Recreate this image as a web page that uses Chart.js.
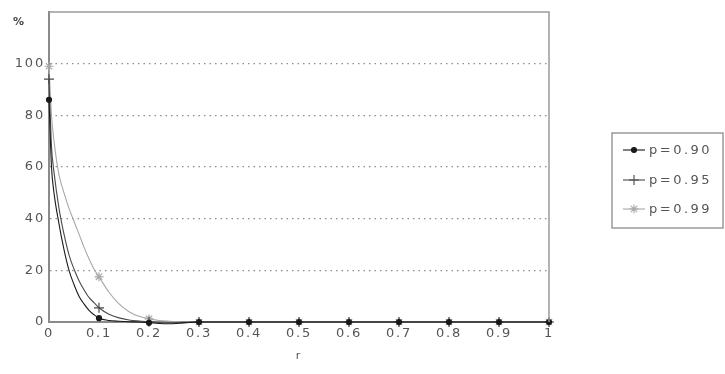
<!DOCTYPE html>
<html>
<head>
<meta charset="utf-8">
<style>
  html, body { margin: 0; padding: 0; background: #fff; }
  #wrap { position: relative; width: 725px; height: 374px; }
</style>
<script src="https://cdn.jsdelivr.net/npm/chart.js@4/dist/chart.umd.min.js"></script>
</head>
<body>
<div id="wrap"><canvas id="c" width="725" height="374"></canvas></div>
<script>
// r sample positions; markers are shown on the 0.1 steps
const rValues = [0, 0.005, 0.01, 0.02, 0.03, 0.04, 0.05, 0.06, 0.07, 0.08, 0.09, 0.1,
  0.12, 0.14, 0.16, 0.18, 0.2, 0.22, 0.24, 0.26, 0.28, 0.3, 0.4, 0.5, 0.6, 0.7, 0.8, 0.9, 1];

// percentage for each confidence level p
const p090 = [86, 60, 50, 38, 28, 20, 14.5, 10, 7, 4.5, 2.8, 1.5,
  0.6, 0.3, 0.1, 0, -0.3, -0.6, -0.7, -0.5, -0.2, 0, 0, 0, 0, 0, 0, 0, 0];
const p095 = [94, 68, 58, 44, 34, 26, 20.5, 16, 12.5, 9.5, 7.5, 5.5,
  3, 1.6, 0.8, 0.4, 0.1, -0.2, -0.3, -0.2, -0.1, 0, 0, 0, 0, 0, 0, 0, 0];
const p099 = [99, 80, 70, 57, 50, 44, 39, 34, 29, 24.5, 20.5, 17.5,
  11.5, 7, 4, 2.2, 1.2, 0.6, 0.3, 0.1, 0, 0, 0, 0, 0, 0, 0, 0, 0];

const seriesLabels = ['p=0.90', 'p=0.95', 'p=0.99'];
const xTicks = [0, 0.1, 0.2, 0.3, 0.4, 0.5, 0.6, 0.7, 0.8, 0.9, 1];
const yTicks = [0, 20, 40, 60, 80, 100];

const FONT = '"DejaVu Sans", Verdana, sans-serif';

function isMarker(r) {
  return Math.abs(r * 10 - Math.round(r * 10)) < 1e-9;
}

const styles = [
  { color: '#1a1a1a', point: 'circle', radius: 2.5 },
  { color: '#4a4a4a', point: 'cross', radius: 5 },
  { color: '#a8a8a8', point: 'star', radius: 4.5 }
];

const allSeries = [p090, p095, p099];

const datasets = allSeries.map((vals, i) => ({
  label: seriesLabels[i],
  data: rValues.map((r, k) => ({ x: r, y: vals[k] })),
  borderColor: styles[i].color,
  backgroundColor: styles[i].color,
  borderWidth: 1.1,
  pointStyle: styles[i].point,
  pointBorderColor: styles[i].color,
  pointBackgroundColor: styles[i].color,
  pointBorderWidth: 1.2,
  pointRadius: ctx => isMarker(rValues[ctx.dataIndex]) ? styles[i].radius : 0,
  pointHoverRadius: 0,
  cubicInterpolationMode: 'monotone',
  clip: false,
  fill: false
}));

// wide, slightly spaced lettering for the axis labels
const spacing = {
  id: 'spacing',
  beforeDraw(chart) { chart.ctx.letterSpacing = '1.8px'; }
};

// plot frame (top/right), percent marker and the boxed legend
const decor = {
  id: 'decor',
  afterDraw(chart) {
    const { ctx, chartArea: a, scales } = chart;
    ctx.save();
    ctx.strokeStyle = '#9a9a9a';
    ctx.lineWidth = 1.5;
    ctx.beginPath();
    ctx.moveTo(a.left, a.top);
    ctx.lineTo(a.right, a.top);
    ctx.lineTo(a.right, a.bottom);
    ctx.stroke();

    ctx.fillStyle = '#444';
    ctx.letterSpacing = '0px';
    ctx.font = 'bold 11px ' + FONT;
    ctx.textBaseline = 'middle';
    ctx.textAlign = 'left';
    ctx.fillText('%', 13, scales.y.getPixelForValue(116));

    // legend box
    const bx = 612, by = 133, bw = 111, bh = 95;
    ctx.strokeStyle = '#9a9a9a';
    ctx.lineWidth = 1.5;
    ctx.strokeRect(bx, by, bw, bh);
    const rows = [150, 180, 209];
    ctx.font = '13px ' + FONT;
    ctx.letterSpacing = '2.5px';
    seriesLabels.forEach((lab, i) => {
      const y = rows[i];
      ctx.strokeStyle = styles[i].color;
      ctx.lineWidth = 1.1;
      ctx.beginPath();
      ctx.moveTo(623, y);
      ctx.lineTo(645, y);
      ctx.stroke();
      ctx.fillStyle = styles[i].color;
      Chart.helpers.drawPoint(ctx, {
        pointStyle: styles[i].point,
        radius: styles[i].radius,
        rotation: 0,
        borderWidth: 1.2
      }, 634, y);
      ctx.fillStyle = '#555';
      ctx.fillText(lab, 649, y + 1);
    });
    ctx.restore();
  }
};

new Chart(document.getElementById('c'), {
  type: 'line',
  data: { datasets },
  plugins: [spacing, decor],
  options: {
    responsive: false,
    animation: false,
    events: [],
    layout: { padding: { left: 0, right: 176, top: 12, bottom: 0 } },
    plugins: { legend: { display: false }, tooltip: { enabled: false } },
    scales: {
      x: {
        type: 'linear',
        min: 0, max: 1,
        afterBuildTicks: s => { s.ticks = xTicks.map(v => ({ value: v })); },
        afterFit: s => { s.height = 52; },
        grid: { display: false, drawTicks: false },
        border: { display: true, color: '#8a8a8a', width: 2 },
        ticks: {
          padding: 4,
          color: '#555',
          font: { family: FONT, size: 13 },
          callback: v => String(v)
        },
        title: {
          display: true, text: 'r', color: '#555',
          font: { family: FONT, size: 11 },
          padding: { top: 0, bottom: 11 }
        }
      },
      y: {
        type: 'linear',
        min: 0, max: 120,
        afterBuildTicks: s => { s.ticks = yTicks.concat([120]).map(v => ({ value: v })); },
        afterFit: s => { s.width = 49; },
        grid: {
          drawTicks: false,
          color: c => (c.tick && (c.tick.value === 0 || c.tick.value === 120)) ? 'rgba(0,0,0,0)' : '#8c8c8c',
          lineWidth: 1.2
        },
        border: { display: true, color: '#8a8a8a', width: 2, dash: [1.5, 4] },
        ticks: {
          padding: 4,
          color: '#555',
          font: { family: FONT, size: 13 },
          callback: v => (v === 120 ? '' : String(v))
        }
      }
    }
  }
});
</script>
</body>
</html>
